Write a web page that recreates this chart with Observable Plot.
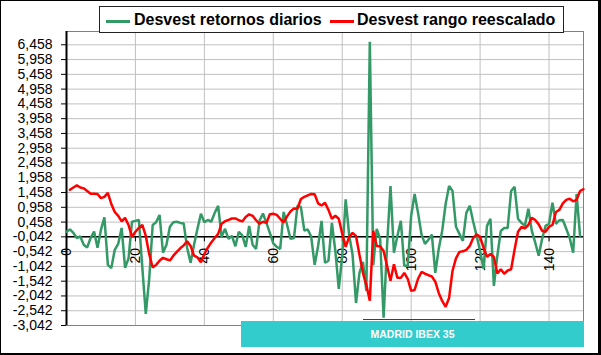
<!DOCTYPE html>
<html>
<head>
<meta charset="utf-8">
<script src="https://cdn.jsdelivr.net/npm/d3@7"></script>
<script src="https://cdn.jsdelivr.net/npm/@observablehq/plot@0.6"></script>
<style>
  html, body { margin: 0; padding: 0; background: #fff; }
  #wrap { position: relative; width: 601px; height: 355px; overflow: hidden; background: #fff; font-family: "Liberation Sans", Arial, sans-serif; }
  #wrap svg { position: absolute; left: 0; top: 0; }
  .legend { position: absolute; left: 99px; top: 6px; width: 463px; height: 25px; border: 1px solid #222; background: #fff; }
  .legend .sw { position: absolute; top: 13px; height: 3px; width: 24px; }
  .legend .lt { position: absolute; top: 3px; font-weight: bold; font-size: 16px; line-height: 20px; color: #000; white-space: nowrap; }
  .caption { position: absolute; left: 241px; top: 321px; width: 343px; height: 26px; background: #33CCCC; color: #fff; font-weight: bold; font-size: 10.5px; line-height: 26px; text-align: center; }
  .capline { position: absolute; left: 363px; top: 319px; width: 112px; height: 0; border-top: 1.5px solid #404040; }
  .outer { position: absolute; left: 0; top: 0; width: 601px; height: 355px; box-sizing: border-box; border-left: 1px solid #000; border-top: 1px solid #000; border-right: 3px solid #000; border-bottom: 2px solid #000; pointer-events: none; }
</style>
</head>
<body>
<div id="wrap"></div>
<script>
// Series names
const seriesNames = ["Desvest retornos diarios", "Desvest rango reescalado"];
const captionText = "MADRID IBEX 35";

// X axis tick labels
const xTicks = [0, 20, 40, 60, 80, 100, 120, 140];
// Y axis tick labels
const yTicks = [-3.042, -2.542, -2.042, -1.542, -1.042, -0.542, -0.042, 0.458, 0.958, 1.458,
                1.958, 2.458, 2.958, 3.458, 3.958, 4.458, 4.958, 5.458, 5.958, 6.458];
const xCross = -0.042; // value where the category axis crosses

// Desvest retornos diarios, x = 0..149
const green = [
  0.13, 0.21, 0.09, -0.08, -0.03, -0.31, -0.40, -0.08, 0.14, -0.41,
  0.20, 0.62, -0.99, -1.10, -0.48, -0.28, 0.26, -1.09, -0.77, 0.47,
  0.50, 0.53, -1.08, -2.65, -1.46, 0.36, 0.45, 0.70, -0.58, -0.31,
  0.30, 0.45, 0.47, 0.43, 0.41, -0.41, -0.92, -0.31, 0.23, 0.74,
  0.45, 0.53, 0.47, 0.77, 1.01, -0.04, 0.23, -0.11, -0.01, -0.36,
  0.13, 0.01, -0.38, 0.33, -0.31, -0.45, 0.50, 0.75, 0.43, 0.09,
  -0.26, -0.38, -0.45, 0.80, 0.36, -0.11, -0.08, 1.01, 0.97, 0.17,
  0.21, -0.04, -0.99, -0.35, 0.50, -0.92, -0.85, 0.43, -0.52, -1.80,
  -0.68, 1.23, 0.03, -0.65, -2.28, -1.26, -0.89, -1.87, 6.56, -1.00,
  0.23, -0.11, -2.78, -0.35, 1.68, -0.58, -0.01, 0.50, -1.02, -1.02,
  0.67, 1.41, 0.77, 0.04, -0.28, -0.14, 0.03, -1.26, -0.45, 0.16,
  1.07, 1.68, 1.51, 0.30, 0.06, -0.18, 0.77, 1.01, 0.47, -0.01,
  -0.52, -1.12, 0.33, 0.57, -1.70, -0.68, 0.16, 0.26, 0.26, 1.51,
  1.65, 0.57, 0.43, 0.33, 0.91, 0.16, -0.24, -0.68, -0.11, 0.33,
  0.40, 1.11, 0.40, 0.52, 0.53, 0.23, -0.08, -0.58, 1.41, -0.01
];

// Desvest rango reescalado, x = 1..150
const red = [
  1.55, 1.63, 1.70, 1.63, 1.60, 1.51, 1.42, 1.42, 1.41, 1.27,
  1.31, 1.45, 1.07, 0.80, 0.67, 0.48, 0.60, 0.36, -0.04, 0.13,
  0.26, 0.36, -0.01, -0.62, -1.08, -0.99, -0.85, -0.75, -0.80, -0.84,
  -0.68, -0.55, -0.43, -0.33, -0.19, -0.35, -0.68, -0.74, -0.90, -0.62,
  -0.41, -0.23, -0.08, 0.06, 0.40, 0.49, 0.53, 0.58, 0.58, 0.52,
  0.48, 0.63, 0.72, 0.67, 0.52, 0.40, 0.47, 0.43, 0.72, 0.74,
  0.70, 0.57, 0.45, 0.65, 0.82, 0.92, 0.91, 1.24, 1.31, 1.36,
  1.41, 1.40, 1.09, 1.02, 1.11, 0.87, 0.57, 0.67, 0.57, 0.06,
  -0.38, -0.04, 0.09, -0.01, -0.65, -1.26, -1.67, -2.20, 0.16, -0.35,
  -0.36, -0.52, -1.02, -1.53, -0.97, -1.43, -1.43, -1.26, -1.46, -1.87,
  -1.84, -1.46, -1.23, -1.29, -1.34, -1.38, -1.56, -1.94, -2.21, -2.41,
  -2.11, -1.19, -0.77, -0.55, -0.53, -0.48, -0.35, -0.08, 0.04, -0.04,
  -0.41, -0.72, -0.62, -0.72, -1.28, -1.14, -1.29, -1.18, -1.14, -0.48,
  0.13, 0.29, 0.25, 0.36, 0.60, 0.53, 0.38, 0.16, 0.13, 0.30,
  0.36, 0.80, 0.87, 1.09, 1.21, 1.25, 1.16, 1.21, 1.51, 1.57
];

const colors = ["#339966", "#FF0000"];

const fmt = d => d.toFixed(3).replace(".", ",");

const chart = Plot.plot({
  width: 601,
  height: 355,
  marginLeft: 66,
  marginRight: 18,
  marginTop: 31,
  marginBottom: 30,
  style: { fontFamily: "'Liberation Sans', Arial, sans-serif", fontSize: "14px", color: "#000", background: "transparent", overflow: "visible" },
  x: { domain: [0, 150], axis: null },
  y: { domain: [-3.042, 6.908], ticks: yTicks, tickFormat: fmt, tickSize: 5, tickPadding: 9, label: null },
  marks: [
    Plot.ruleY(yTicks, { stroke: "#c0c0c0", strokeWidth: 1 }),
    Plot.ruleX(xTicks.filter(d => d > 0), { stroke: "#c0c0c0", strokeWidth: 1 }),
    Plot.frame({ stroke: "#808080", strokeWidth: 1 }),
    Plot.ruleY([xCross], { stroke: "#000", strokeWidth: 1.5 }),
    Plot.ruleX(xTicks, { x: d => d, y1: xCross, y2: xCross, insetBottom: -5, stroke: "#000", strokeWidth: 1 }),
    Plot.ruleX([0], { stroke: "#000", strokeWidth: 2 }),
    Plot.text(xTicks, { x: d => d, y: xCross, text: d => String(d), rotate: -90, textAnchor: "end", dy: 11, fontSize: 14, fill: "#000" }),
    Plot.line(green, { x: (d, i) => i, y: d => d, stroke: colors[0], strokeWidth: 2.5, strokeLinejoin: "miter" }),
    Plot.line(red, { x: (d, i) => i + 1, y: d => d, stroke: colors[1], strokeWidth: 2.5, strokeLinejoin: "miter" })
  ]
});

const wrap = document.getElementById("wrap");
wrap.appendChild(chart);

// Legend
const legend = document.createElement("div");
legend.className = "legend";
const items = [
  { sw: 6, tx: 34 },
  { sw: 230, tx: 257 }
];
seriesNames.forEach((name, k) => {
  const sw = document.createElement("div");
  sw.className = "sw";
  sw.style.left = items[k].sw + "px";
  sw.style.background = colors[k];
  legend.appendChild(sw);
  const t = document.createElement("div");
  t.className = "lt";
  t.style.left = items[k].tx + "px";
  t.textContent = name;
  legend.appendChild(t);
});
wrap.appendChild(legend);

const capline = document.createElement("div");
capline.className = "capline";
wrap.appendChild(capline);

const cap = document.createElement("div");
cap.className = "caption";
cap.textContent = captionText;
wrap.appendChild(cap);

const outer = document.createElement("div");
outer.className = "outer";
wrap.appendChild(outer);
</script>
</body>
</html>
